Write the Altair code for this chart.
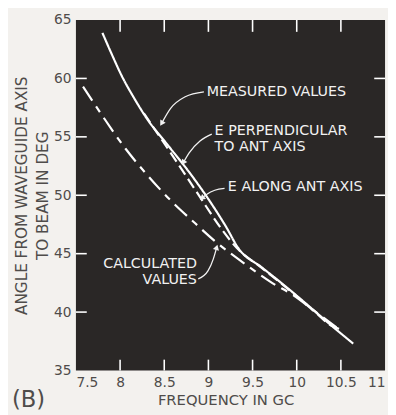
import math
import altair as alt
import pandas as pd

# ---- data ----
perp_x = [7.80, 7.91, 8.02, 8.16, 8.30, 8.55, 8.80, 9.05, 9.20, 9.34, 9.60, 9.80, 10.00, 10.20, 10.40, 10.64]
perp_y = [63.9, 62.0, 60.2, 58.3, 56.6, 54.2, 51.8, 49.1, 47.3, 45.45, 43.85, 42.65, 41.4, 40.1, 38.8, 37.3]

along_x = [8.27, 8.36, 8.62, 8.90, 9.14, 9.32, 9.60, 9.80, 10.00, 10.20, 10.40, 10.47, 10.52]
along_y = [57.0, 56.0, 53.1, 49.9, 47.2, 45.5, 43.8, 42.6, 41.35, 40.05, 38.8, 38.6, 38.5]

calc_x = [7.58, 7.80, 8.06, 8.30, 8.58, 8.85, 9.07, 9.40, 9.72, 9.95, 10.20, 10.45]
calc_y = [59.3, 56.8, 54.0, 51.8, 49.5, 47.6, 46.1, 44.2, 42.5, 41.5, 40.1, 38.7]

series_names = ["E perpendicular", "E along", "Calculated"]

x_ticks = [8, 8.5, 9, 9.5, 10, 10.5]
y_ticks = [40, 45, 50, 55, 60]
x_labels = [7.5, 8, 8.5, 9, 9.5, 10, 10.5, 11]
y_labels = [35, 40, 45, 50, 55, 60, 65]

# annotation texts ("|" marks a line break; y is the first line)
ann_text = ["MEASURED VALUES", "E PERPENDICULAR|TO ANT AXIS", "E ALONG ANT AXIS", "CALCULATED|VALUES"]
ann_x = [8.98, 9.07, 9.22, 8.87]
ann_y = [58.85, 55.48, 50.68, 44.11]
ann_align = ["left", "left", "left", "right"]

# annotation arrows (from label to curve)
arrow_x = [
    [8.949, 8.737, 8.570, 8.470],
    [9.038, 8.905, 8.782, 8.715],
    [9.183, 9.072, 8.983, 8.927],
    [8.885, 8.995, 9.055, 9.094],
]
arrow_y = [
    [58.85, 58.43, 57.42, 56.15],
    [55.23, 54.64, 53.63, 52.78],
    [50.59, 50.43, 50.09, 49.75],
    [42.84, 43.52, 44.53, 45.54],
]

# ---- layout ----
W, H = 314, 356
XD, YD = [7.5, 11], [35, 65]
BG = "#2a2726"
INK = "#4f4c4a"
FONT = "DejaVu Sans"

xs = alt.Scale(domain=XD, nice=False, zero=False)
ys = alt.Scale(domain=YD, nice=False, zero=False)

rows = []
for name, xx, yy in zip(series_names, [perp_x, along_x, calc_x], [perp_y, along_y, calc_y]):
    for a, b in zip(xx, yy):
        rows.append({"series": name, "f": a, "ang": b})
curves = pd.DataFrame(rows)

lines = alt.Chart(curves).mark_line(color="white", strokeWidth=2.2, interpolate="monotone").encode(
    x=alt.X("f:Q", scale=xs, axis=alt.Axis(
        values=x_labels, format="~g", title="FREQUENCY IN GC",
        grid=False, domain=False, ticks=False,
        labelFontSize=14, labelColor=INK, labelFont=FONT, labelPadding=5,
        titleFontSize=15, titleFont=FONT, titleColor=INK, titleFontWeight="normal",
        titlePadding=4, titleX=152)),
    y=alt.Y("ang:Q", scale=ys, axis=alt.Axis(
        values=y_labels, title=["ANGLE FROM WAVEGUIDE AXIS", "TO BEAM IN DEG"],
        grid=False, domain=False, ticks=False,
        labelFontSize=14, labelColor=INK, labelFont=FONT, labelPadding=5,
        titleFontSize=15.5, titleFont=FONT, titleColor=INK, titleFontWeight="normal",
        titleLineHeight=21, titlePadding=3)),
    strokeDash=alt.StrokeDash("series:N", scale=alt.Scale(
        domain=series_names, range=[[1, 0], [11, 5], [17, 7, 7, 7]]), legend=None),
    detail="series:N",
)

# inside ticks
xt = pd.DataFrame({"f": x_ticks})
yt = pd.DataFrame({"ang": y_ticks})
tick_style = dict(color="white", strokeWidth=1.6)
bottom_ticks = alt.Chart(xt).mark_rule(**tick_style).encode(
    x=alt.X("f:Q", scale=xs), y=alt.value(H), y2=alt.value(H - 11))
top_ticks = alt.Chart(xt).mark_rule(**tick_style).encode(
    x=alt.X("f:Q", scale=xs), y=alt.value(0), y2=alt.value(12))
left_ticks = alt.Chart(yt).mark_rule(**tick_style).encode(
    y=alt.Y("ang:Q", scale=ys), x=alt.value(0), x2=alt.value(11))
right_ticks = alt.Chart(yt).mark_rule(**tick_style).encode(
    y=alt.Y("ang:Q", scale=ys), x=alt.value(W), x2=alt.value(W - 11))

# annotation text
at = pd.DataFrame({"t": ann_text, "f": ann_x, "ang": ann_y, "al": ann_align})
texts = []
for al in ["left", "right"]:
    texts.append(alt.Chart(at[at.al == al]).mark_text(
        align=al, baseline="middle", color="#f2f2f2", fontSize=14.5, font=FONT,
        lineBreak="|", lineHeight=16).encode(
        x=alt.X("f:Q", scale=xs), y=alt.Y("ang:Q", scale=ys), text="t:N"))

# arrows
sx = W / (XD[1] - XD[0])
sy = H / (YD[1] - YD[0])
arows, heads = [], []
for k, (ax, ay) in enumerate(zip(arrow_x, arrow_y)):
    for i, (a, b) in enumerate(zip(ax, ay)):
        arows.append({"k": k, "i": i, "f": a, "ang": b})
    dxp = (ax[-1] - ax[-2]) * sx
    dyp = -(ay[-1] - ay[-2]) * sy
    angle = math.degrees(math.atan2(dxp, -dyp)) % 360
    heads.append({"f": ax[-1], "ang": ay[-1], "rot": angle})
arrow_df = pd.DataFrame(arows)
head_df = pd.DataFrame(heads)

arrow_lines = alt.Chart(arrow_df).mark_line(
    color="#f2f2f2", strokeWidth=1.3, interpolate="monotone").encode(
    x=alt.X("f:Q", scale=xs), y=alt.Y("ang:Q", scale=ys),
    detail="k:N", order="i:Q")
arrow_heads = alt.Chart(head_df).mark_point(
    shape="triangle-up", filled=True, color="#f2f2f2", size=40, opacity=1).encode(
    x=alt.X("f:Q", scale=xs), y=alt.Y("ang:Q", scale=ys),
    angle=alt.Angle("rot:Q", scale=None))

chart = alt.layer(
    lines, bottom_ticks, top_ticks, left_ticks, right_ticks,
    *texts, arrow_lines, arrow_heads,
).properties(
    width=W, height=H,
    title=alt.TitleParams(text="(B)", orient="bottom", anchor="start", frame="group",
                          fontSize=23, font=FONT, fontWeight="normal", color=INK,
                          dx=-65, dy=-23),
    autosize=alt.AutoSizeParams(type="none"),
    padding={"left": 69, "top": 9, "right": 3, "bottom": 42},
    background="#f3f1ee",
).configure_view(fill=BG, stroke=None)

chart.save("out.html", embed_options={"renderer": "svg", "actions": False})
